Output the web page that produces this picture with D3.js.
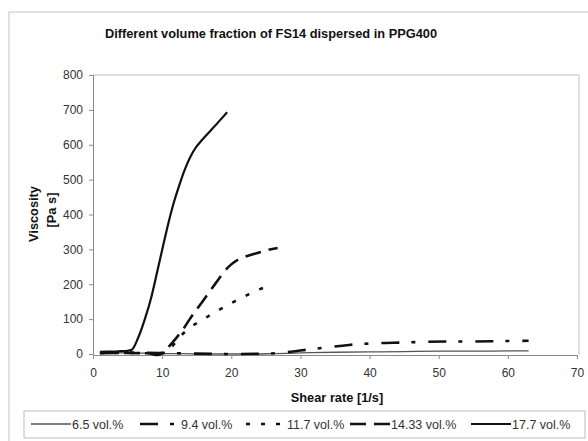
<!DOCTYPE html>
<html>
<head>
<meta charset="utf-8">
<script src="https://cdn.jsdelivr.net/npm/d3@7"></script>
<style>
  body { margin: 0; background: #fff; }
  text { font-family: "Liberation Sans", Arial, sans-serif; }
</style>
</head>
<body>
<div id="chart"></div>
<script>
// values
const seriesNames = ['6.5 vol.%', '9.4 vol.%', '11.7 vol.%', '14.33 vol.%', '17.7 vol.%'];

const rate65 = [1, 3, 5, 8, 10, 13, 16, 20, 23, 26, 30, 35, 40, 45, 50, 55, 60, 63];
const visc65 = [3, 3, 3, 2, 1, 1, 0, 0, 0, 1, 3, 5, 6, 7, 8, 8, 9, 9];

const rate94 = [1, 5, 10, 15, 20, 25, 28, 30, 33, 37, 41, 45, 48, 52, 55, 59, 63];
const visc94 = [4, 4, 3, 1, 0, 1, 5, 10, 17, 26, 31, 33, 35, 36, 36, 37, 38];

const rate117 = [1, 5, 9, 10.5, 12, 13, 14, 16, 18, 20, 22, 24, 25.5];
const visc117 = [3, 3, 2, 4, 35, 58, 75, 100, 124, 146, 166, 185, 194];

const rate1433 = [1, 5, 8, 9.3, 10, 11, 12, 13, 14, 15, 16, 17, 18, 19, 20, 21, 22, 23, 24, 25, 26.7];
const visc1433 = [2, 3, 2, -3, 2, 22, 45, 70, 100, 128, 155, 183, 210, 237, 257, 271, 279, 285, 291, 297, 304];

const rate177 = [1, 2, 3, 4, 5, 5.6, 6.5, 7.5, 8.5, 9.3, 10.1, 10.9, 11.7, 12.5, 13.3, 14.2, 14.8, 15.7, 16.8, 18, 19.4];
const visc177 = [6, 7, 7, 8, 9, 12, 45, 100, 168, 237, 307, 375, 435, 485, 530, 570, 590, 612, 636, 662, 693];

const xTicks = [0, 10, 20, 30, 40, 50, 60, 70];
const yTicks = [0, 100, 200, 300, 400, 500, 600, 700, 800];

const rates = [rate65, rate94, rate117, rate1433, rate177];
const viscs = [visc65, visc94, visc117, visc1433, visc177];

const styles = [
  { w: 1.3, dash: null, color: '#555' },
  { w: 2.6, dash: '18,12,4,13', color: '#111' },
  { w: 2.6, dash: '4,11', color: '#111' },
  { w: 2.6, dash: '16,8', color: '#111' },
  { w: 2.2, dash: null, color: '#111' }
];

const W = 588, H = 441;
const plotL = 93, plotR = 577, plotT = 75, plotB = 354;

const svg = d3.select('#chart')
  .append('svg')
  .attr('width', W)
  .attr('height', H);

// outer chart frame
svg.append('rect')
  .attr('x', 9).attr('y', 12)
  .attr('width', 600).attr('height', 440)
  .attr('fill', 'none')
  .attr('stroke', '#c4c4c4')
  .attr('stroke-width', 1);

svg.append('text')
  .attr('x', 271).attr('y', 37.5)
  .attr('text-anchor', 'middle')
  .attr('font-size', '12.8px')
  .attr('font-weight', 'bold')
  .attr('fill', '#111')
  .text('Different volume fraction of FS14 dispersed in PPG400');

const x = d3.scaleLinear().domain([0, 70]).range([plotL, plotR]);
const y = d3.scaleLinear().domain([0, 800]).range([plotB, plotT]);

// plot border (top/right)
svg.append('path')
  .attr('d', `M${plotL},${plotT}H${plotR + 2}V${plotB}`)
  .attr('fill', 'none')
  .attr('stroke', '#bdbdbd');

const xAxis = svg.append('g')
  .attr('transform', 'translate(0,' + (plotB + 1) + ')')
  .call(d3.axisBottom(x).tickValues(xTicks).tickSize(4).tickPadding(9));

const yAxis = svg.append('g')
  .attr('transform', 'translate(' + plotL + ',0)')
  .call(d3.axisLeft(y).tickValues(yTicks).tickSize(4).tickPadding(6));

[xAxis, yAxis].forEach(g => {
  g.select('.domain').attr('stroke', '#8a8a8a');
  g.selectAll('.tick line').attr('stroke', '#8a8a8a');
  g.selectAll('.tick text')
    .attr('fill', '#333')
    .style('font-size', '12px')
    .style('font-family', '"Liberation Sans", Arial, sans-serif');
});

const line = d3.line()
  .x(d => x(d[0]))
  .y(d => y(d[1]))
  .curve(d3.curveMonotoneX);

rates.forEach((r, i) => {
  const pts = r.map((v, j) => [v, viscs[i][j]]);
  svg.append('path')
    .datum(pts)
    .attr('fill', 'none')
    .attr('stroke', styles[i].color)
    .attr('stroke-width', styles[i].w)
    .attr('stroke-dasharray', styles[i].dash)
    .attr('d', line);
});

// axis titles
svg.append('text')
  .attr('x', 337).attr('y', 401.5)
  .attr('text-anchor', 'middle')
  .attr('font-size', '12.8px')
  .attr('font-weight', 'bold')
  .attr('fill', '#111')
  .text('Shear rate [1/s]');

svg.append('text')
  .attr('transform', 'translate(38,214) rotate(-90)')
  .attr('text-anchor', 'middle')
  .attr('font-size', '12.8px')
  .attr('font-weight', 'bold')
  .attr('fill', '#111')
  .text('Viscosity');

svg.append('text')
  .attr('transform', 'translate(56,210) rotate(-90)')
  .attr('text-anchor', 'middle')
  .attr('font-size', '12.8px')
  .attr('font-weight', 'bold')
  .attr('fill', '#111')
  .text('[Pa s]');

// legend
svg.append('rect')
  .attr('x', 24).attr('y', 411)
  .attr('width', 561).attr('height', 27)
  .attr('fill', 'none')
  .attr('stroke', '#bdbdbd');

const legendX = [31, 140, 246, 350, 471];
seriesNames.forEach((name, i) => {
  const g = svg.append('g').attr('transform', 'translate(' + legendX[i] + ',424)');
  g.append('line')
    .attr('x1', 0).attr('x2', 40)
    .attr('stroke', styles[i].color)
    .attr('stroke-width', styles[i].w)
    .attr('stroke-dasharray', styles[i].dash);
  g.append('text')
    .attr('x', 41).attr('y', 4.5)
    .attr('font-size', '12.5px')
    .attr('fill', '#333')
    .text(name);
});
</script>
</body>
</html>
